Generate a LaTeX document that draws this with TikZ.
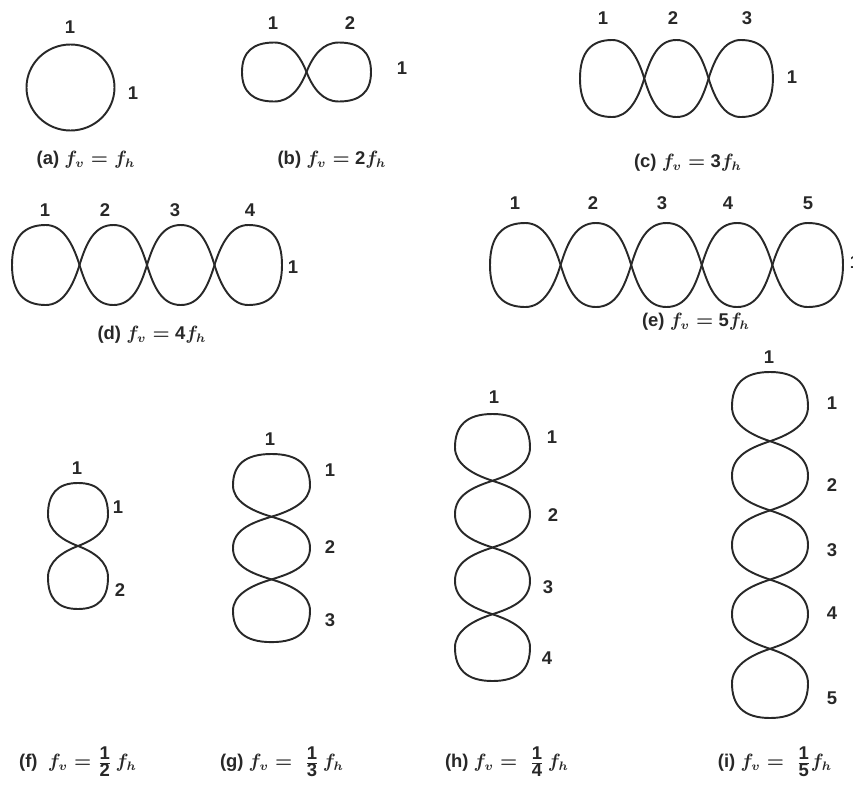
\documentclass[tikz,border=0pt]{standalone}
\usepackage{fontspec}
\setmainfont{Liberation Sans}
\usetikzlibrary{positioning}
\definecolor{inkgray}{RGB}{40,40,40}
% one outer loop (outer side at 0, crossing at 1) and one inner loop
\newcommand{\outerloop}{(1,0) .. controls (0.9,0.55) and (0.75,1) .. (0.5,1)
    .. controls (0.18,1) and (0,0.7) .. (0,0)
    .. controls (0,-0.7) and (0.18,-1) .. (0.5,-1)
    .. controls (0.75,-1) and (0.9,-0.55) .. (1,0)}
\newcommand{\innerloop}{(0,0) .. controls (0.1,0.55) and (0.22,1) .. (0.5,1)
    .. controls (0.78,1) and (0.9,0.55) .. (1,0)
    .. controls (0.9,-0.55) and (0.78,-1) .. (0.5,-1)
    .. controls (0.22,-1) and (0.1,-0.55) .. (0,0)}

\begin{document}
\begin{tikzpicture}[
x=0.02cm, y=-0.02cm,
loopline/.style={draw=inkgray, line width=1.1pt, line join=round},
num/.style={font=\fontsize{10.5}{12}\selectfont\bfseries, text=inkgray, inner sep=0pt},
captext/.style={font=\fontsize{10.5}{12}\selectfont\bfseries\boldmath, text=inkgray, inner sep=0pt}
]
\useasboundingbox (0,0) rectangle (853,785);

% (a) fv = fh
\draw[loopline] (70.5,87.5) ellipse [x radius=44, y radius=43];
\node[num] (a1) at (70,27) {1};
\node[num] (a2) at (133,93) {1};
\node[captext] (capa) at (86,160) {(a) $f_v = f_h$};

% (b) fv = 2fh
\begin{scope}[shift={(242,72)}, xscale=64.5, yscale=29.5]
  \draw[loopline] \outerloop;
  \draw[loopline, shift={(2,0)}, xscale=-1] \outerloop;
\end{scope}
\node[num] (b1) at (273,23) {1};
\node[num] (b2) at (350,23) {2};
\node[num] (b3) at (402,68) {1};
\node[captext] (capb) at (332,160) {(b) $f_v =$ 2$f_h$};

% (c) fv = 3fh
\begin{scope}[shift={(580,78.5)}, xscale=64.3, yscale=38.5]
  \draw[loopline] \outerloop;
  \draw[loopline, shift={(1,0)}] \innerloop;
  \draw[loopline, shift={(3,0)}, xscale=-1] \outerloop;
\end{scope}
\foreach \x/\t in {603/1,673/2,747/3}
  \node[num] (c\t) at (\x,18) {\t};
\node[num] (c4) at (792,77) {1};
\node[captext] (capc) at (688,163) {(c) $f_v =$ 3$f_h$};

% (d) fv = 4fh
\begin{scope}[shift={(12,265)}, xscale=67.5, yscale=40]
  \draw[loopline] \outerloop;
  \foreach \k in {1,2} \draw[loopline, shift={(\k,0)}] \innerloop;
  \draw[loopline, shift={(4,0)}, xscale=-1] \outerloop;
\end{scope}
\foreach \x/\t in {45/1,105/2,175/3,250/4}
  \node[num] (d\t) at (\x,210) {\t};
\node[num] (d5) at (293,267) {1};
\node[captext] (capd) at (152,335) {(d) $f_v =$ 4$f_h$};

% (e) fv = 5fh
\begin{scope}[shift={(490,265)}, xscale=70.6, yscale=42]
  \draw[loopline] \outerloop;
  \foreach \k in {1,2,3} \draw[loopline, shift={(\k,0)}] \innerloop;
  \draw[loopline, shift={(5,0)}, xscale=-1] \outerloop;
\end{scope}
\foreach \x/\t in {515/1,593/2,662/3,728/4,808/5}
  \node[num] (e\t) at (\x,203) {\t};
\node[num] (e6) at (855,262) {1};
\node[captext] (cape) at (696,322) {(e) $f_v =$ 5$f_h$};

% (f) fv = fh/2
\begin{scope}[shift={(78,483)}, rotate=-90, xscale=63, yscale=30]
  \draw[loopline] \outerloop;
  \draw[loopline, shift={(2,0)}, xscale=-1] \outerloop;
\end{scope}
\node[num] (f0) at (77,468) {1};
\node[num] (f1) at (118,507) {1};
\node[num] (f2) at (120,590) {2};
\node[captext] (capf) at (78,762) {(f)\ \ $f_v = \frac{\mbox{1}}{\mbox{2}}\,f_h$};

% (g) fv = fh/3
\begin{scope}[shift={(271.5,454)}, rotate=-90, xscale=62.7, yscale=38.5]
  \draw[loopline] \outerloop;
  \draw[loopline, shift={(1,0)}] \innerloop;
  \draw[loopline, shift={(3,0)}, xscale=-1] \outerloop;
\end{scope}
\node[num] (g0) at (270,439) {1};
\foreach \y/\t in {470/1,547/2,620/3}
  \node[num] (g\t) at (330,\y) {\t};
\node[captext] (capg) at (282,762) {(g) $f_v =\;\frac{\mbox{1}}{\mbox{3}}\,f_h$};

% (h) fv = fh/4
\begin{scope}[shift={(492.5,414)}, rotate=-90, xscale=66.75, yscale=37.5]
  \draw[loopline] \outerloop;
  \foreach \k in {1,2} \draw[loopline, shift={(\k,0)}] \innerloop;
  \draw[loopline, shift={(4,0)}, xscale=-1] \outerloop;
\end{scope}
\node[num] (h0) at (494,397) {1};
\foreach \x/\y/\t in {552/437/1,553/515/2,548/587/3,547/658/4}
  \node[num] (h\t) at (\x,\y) {\t};
\node[captext] (caph) at (507,762) {(h) $f_v =\;\frac{\mbox{1}}{\mbox{4}}\,f_h$};

% (i) fv = fh/5
\begin{scope}[shift={(770,372)}, rotate=-90, xscale=69.2, yscale=38]
  \draw[loopline] \outerloop;
  \foreach \k in {1,2,3} \draw[loopline, shift={(\k,0)}] \innerloop;
  \draw[loopline, shift={(5,0)}, xscale=-1] \outerloop;
\end{scope}
\node[num] (i0) at (769,357) {1};
\foreach \y/\t in {403/1,485/2,550/3,613/4,698/5}
  \node[num] (i\t) at (832,\y) {\t};
\node[captext] (capi) at (775,762) {(i) $f_v =\;\frac{\mbox{1}}{\mbox{5}}f_h$};

\end{tikzpicture}
\end{document}
